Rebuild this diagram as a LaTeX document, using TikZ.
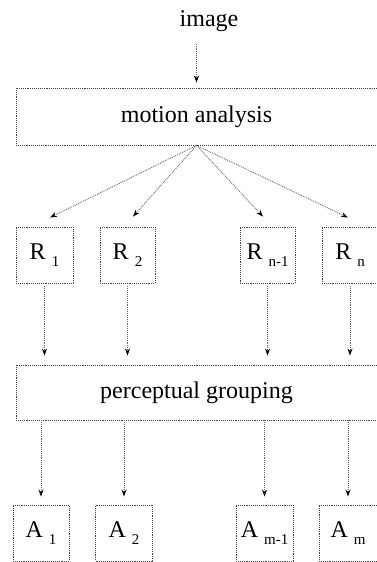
\documentclass[tikz,border=0pt]{standalone}
\usepackage{fontspec}
\setmainfont{Liberation Serif}
\usetikzlibrary{arrows.meta}
\newcommand{\lowsub}[1]{\hspace{6pt}\raisebox{-7pt}{\fontsize{15}{15}\selectfont #1}}

\begin{document}
\begin{tikzpicture}[x=1pt, y=-1pt, every node/.style={font=\fontsize{24}{27}\selectfont},
  box/.style={draw=black!75, densely dotted, line width=0.9pt, inner sep=0pt},
  link/.style={black!60, densely dotted, line width=0.9pt, -{Stealth[black, length=7pt, width=5pt]}}]
\useasboundingbox (0,0) rectangle (376,562);
\node[anchor=base] (img) at (209,27) {image};
\node[box, minimum width=361pt, minimum height=57pt] (motion) at (196.5,116.5) {motion analysis};
\node[box, minimum width=57pt, minimum height=56pt] (r1) at (44.5,255) {R\lowsub{1}};
\node[box, minimum width=55pt, minimum height=56pt] (r2) at (127.5,255) {R\lowsub{2}};
\node[box, minimum width=55pt, minimum height=56pt] (rk) at (267.5,255) {R\lowsub{n-1}};
\node[box, minimum width=56pt, minimum height=56pt] (rn) at (350,255) {R\lowsub{n}};
\node[box, minimum width=361pt, minimum height=55pt] (group) at (196.5,392.5) {perceptual grouping};
\node[box, minimum width=56pt, minimum height=56pt] (a1) at (41,533) {A\lowsub{1}};
\node[box, minimum width=57pt, minimum height=56pt] (a2) at (124,533) {A\lowsub{2}};
\node[box, minimum width=57pt, minimum height=56pt] (ak) at (264.5,533) {A\lowsub{m-1}};
\node[box, minimum width=58pt, minimum height=56pt] (am) at (348,533) {A\lowsub{m}};
\draw[link, shorten <=8pt, shorten >=5pt] (img.south -| motion.north) -- (motion.north);
\draw[link] (motion.south) -- ([shift={(5.5,-9)}]r1.north);
\draw[link] (motion.south) -- ([shift={(5.5,-10)}]r2.north);
\draw[link] (motion.south) -- ([shift={(-4.5,-10)}]rk.north);
\draw[link] (motion.south) -- ([shift={(-2,-9)}]rn.north);
\foreach \r in {r1,r2,rk,rn}
  \draw[link, shorten <=3pt, shorten >=9pt] (\r.south) -- (\r.south |- group.north);
\foreach \a in {a1,a2,ak,am}
  \draw[link, shorten >=8pt] (\a.north |- group.south) -- (\a.north);
\end{tikzpicture}
\end{document}
